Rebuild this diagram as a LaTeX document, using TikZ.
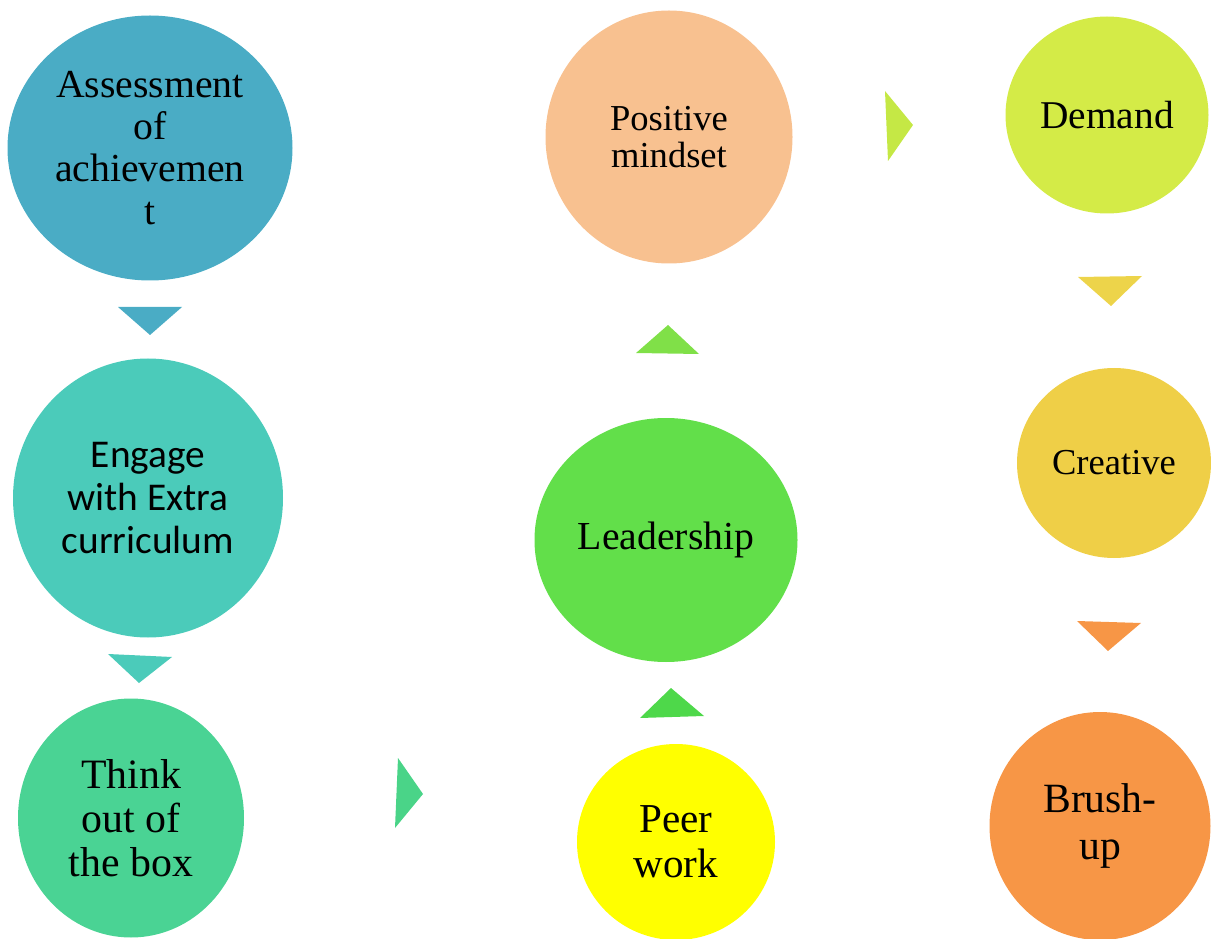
\documentclass[tikz,border=0pt]{standalone}
\usepackage{fontspec}
\setmainfont{Liberation Serif}
\newfontfamily\calibri{Carlito}
\usetikzlibrary{shapes.geometric}

\definecolor{cAssess}{HTML}{4AACC5}
\definecolor{cEngage}{HTML}{4BCBBA}
\definecolor{cThink}{HTML}{4AD394}
\definecolor{cPeer}{HTML}{FFFF00}
\definecolor{cLead}{HTML}{62DF4A}
\definecolor{cPos}{HTML}{F8C190}
\definecolor{cDemand}{HTML}{D4EB47}
\definecolor{cCreative}{HTML}{EFCF47}
\definecolor{cBrush}{HTML}{F79646}
\definecolor{tThink}{HTML}{4AD488}
\definecolor{tPeer}{HTML}{4ED84A}
\definecolor{tLead}{HTML}{80E048}
\definecolor{tPos}{HTML}{C5E845}
\definecolor{tDemand}{HTML}{EDD44A}

\tikzset{
  bubble/.style={ellipse, inner sep=0pt, align=center, text=black},
}

\begin{document}
\begin{tikzpicture}[x=0.02cm, y=-0.02cm]
                    \useasboundingbox (0,0) rectangle (1211,939);
                    % first column
                    \node[bubble, fill=cAssess, minimum width=285*0.02cm, minimum height=265*0.02cm,
                      font=\fontsize{22.6}{24}\selectfont] (A) at (150,148) {Assessment\\of\\achievemen\\t};
                    \node[bubble, fill=cEngage, minimum width=270*0.02cm, minimum height=279*0.02cm,
                      font=\calibri\fontsize{22.4}{24.4}\selectfont] (B) at (148,498) {Engage\\with Extra\\curriculum};
                    \node[bubble, fill=cThink, minimum width=226*0.02cm, minimum height=239*0.02cm,
                      font=\fontsize{23.8}{25}\selectfont] (C) at (131,818) {Think\\out of\\the box};
                    % middle column
                    \node[bubble, fill=cPeer, minimum width=198*0.02cm, minimum height=196*0.02cm,
                      font=\fontsize{23.4}{25.5}\selectfont] (D) at (676,842) {Peer\\work};
                    \node[bubble, fill=cLead, minimum width=263*0.02cm, minimum height=244*0.02cm,
                      font=\fontsize{22.6}{24}\selectfont] (E) at (666,540) {Leadership};
                    \node[bubble, fill=cPos, minimum width=247*0.02cm, minimum height=253*0.02cm,
                      font=\fontsize{20.8}{21.5}\selectfont] (F) at (669,137) {Positive\\mindset};
                    % right column
                    \node[bubble, fill=cDemand, minimum width=203*0.02cm, minimum height=197*0.02cm,
                      font=\fontsize{22.4}{24}\selectfont] (G) at (1107,115) {Demand};
                    \node[bubble, fill=cCreative, minimum width=194*0.02cm, minimum height=190*0.02cm,
                      font=\fontsize{20.8}{22}\selectfont] (H) at (1114,463) {Creative};
                    \node[bubble, fill=cBrush, minimum width=221*0.02cm, minimum height=228*0.02cm,
                      font=\fontsize{23.7}{26.5}\selectfont] (I) at (1100,826) {Brush-\\up};
                    % pointers between the bubbles
                    \fill[cAssess] (118,307) -- (182,307) -- (150,335) -- cycle;
                    \fill[cEngage] (108,654) -- (172,657) -- (139,683) -- cycle;
                    \fill[tThink] (398,758) -- (423,794) -- (395,828) -- cycle;
                    \fill[tPeer] (640,718) -- (704,716) -- (671,688) -- cycle;
                    \fill[tLead] (636,353) -- (699,354) -- (668,325) -- cycle;
                    \fill[tPos] (885,91) -- (913,125) -- (888,161) -- cycle;
                    \fill[tDemand] (1078,277) -- (1142,276) -- (1111,306) -- cycle;
                    \fill[cBrush] (1077,621) -- (1141,623) -- (1108,651) -- cycle;
                \end{tikzpicture}
\end{document}
